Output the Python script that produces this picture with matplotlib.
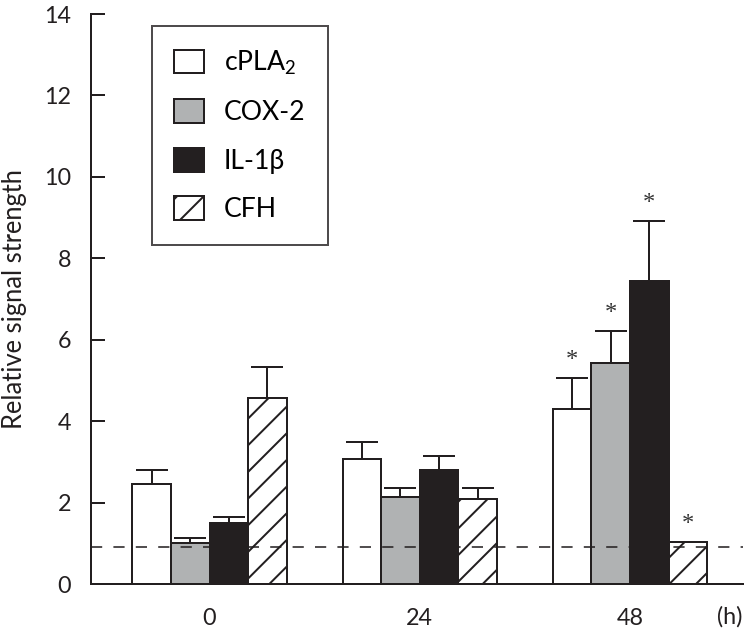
"""Relative signal strength of cPLA2, COX-2, IL-1b and CFH over time."""
import matplotlib
matplotlib.use("Agg")
import matplotlib.pyplot as plt
import numpy as np

# Data
hours = ["0", "24", "48"]
genes = ["cPLA$_2$", "COX-2", "IL-1β", "CFH"]

means = {
    "cPLA2": [2.45, 3.06, 4.31],
    "COX-2": [1.00, 2.13, 5.42],
    "IL-1b": [1.50, 2.81, 7.45],
    "CFH":   [4.56, 2.09, 1.02],
}
errors = {
    "cPLA2": [0.35, 0.44, 0.75],
    "COX-2": [0.12, 0.24, 0.80],
    "IL-1b": [0.15, 0.33, 1.46],
    "CFH":   [0.78, 0.28, 0.02],
}
# significance markers (True = asterisk above bar)
signif = {
    "cPLA2": [False, False, True],
    "COX-2": [False, False, True],
    "IL-1b": [False, False, True],
    "CFH":   [False, False, True],
}
baseline = 0.92

DPI = 160
plt.rcParams["font.family"] = ["Lato", "DejaVu Sans"]
plt.rcParams["mathtext.fontset"] = "custom"
plt.rcParams["mathtext.rm"] = "Lato"
plt.rcParams["mathtext.default"] = "regular"
plt.rcParams["hatch.linewidth"] = 0.9

black = "#231f20"
facecolors = ["white", "#b0b2b3", black, "white"]
hatches = [None, None, None, "//"]

fig = plt.figure(figsize=(749 / DPI, 635 / DPI), dpi=DPI)
ax = fig.add_axes([0.1215, 0.0803, 0.8705, 0.8976])

x = np.arange(len(hours))
w = 0.1836
keys = list(means.keys())
bars = []
for i, k in enumerate(keys):
    pos = x + (i - 1.5) * w
    b = ax.bar(pos, means[k], w, color=facecolors[i], edgecolor=black,
               linewidth=0.9, hatch=hatches[i], label=genes[i], zorder=2)
    bars.append(b)
    ax.errorbar(pos, means[k], yerr=[np.zeros(3), errors[k]], fmt="none",
                ecolor=black, elinewidth=0.9, capsize=7.2, capthick=0.9, zorder=3)
    for j in range(3):
        if signif[k][j]:
            ax.text(pos[j], means[k][j] + errors[k][j] + 0.45, "*",
                    ha="center", va="center", fontsize=11,
                    family="Liberation Serif", color="#333333", zorder=4)

ax.axhline(baseline, color=black, lw=0.7, dashes=(7.2, 7.2), zorder=5)

ax.set_xlim(-0.5636, 2.5375)
ax.set_ylim(0, 14)
ax.set_yticks(np.arange(0, 15, 2))
ax.set_xticks(x)
ax.set_xticklabels(hours)
ax.tick_params(axis="y", direction="in", length=6.3, width=0.9, pad=9,
               labelsize=10.5, colors=black)
ax.tick_params(axis="x", length=0, pad=11, labelsize=10.5, colors=black)
for s in ["top", "right"]:
    ax.spines[s].set_visible(False)
for s in ["left", "bottom"]:
    ax.spines[s].set_linewidth(0.9)
    ax.spines[s].set_color(black)

ax.text(2.475, -0.058, "(h)", transform=ax.get_xaxis_transform(),
        ha="center", va="center", fontsize=10.5, color=black)
fig.text(15 / 749, 1 - 299 / 635, "Relative signal strength", rotation=90,
         ha="center", va="center", fontsize=11.5, color=black)

leg = ax.legend(handles=bars, loc="upper left", bbox_to_anchor=(0.0931, 0.979),
                borderaxespad=0, fontsize=12, frameon=True, fancybox=False,
                handlelength=1.1, handleheight=1.0, labelspacing=0.84,
                handletextpad=0.75, borderpad=0.85)
leg.get_frame().set_edgecolor(black)
leg.get_frame().set_linewidth(0.9)
leg.set_zorder(6)

fig.savefig("out.png", dpi=DPI)
